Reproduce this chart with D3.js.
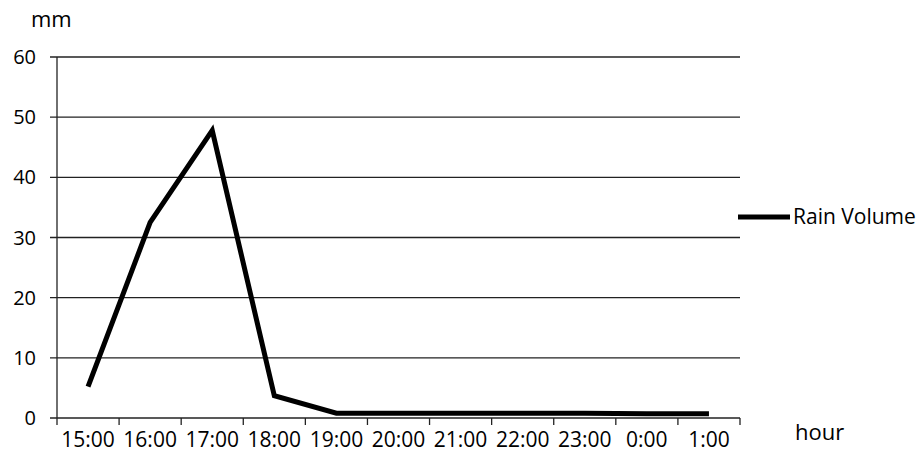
<!DOCTYPE html>
<html>
<head>
<meta charset="utf-8">
<script src="https://cdn.jsdelivr.net/npm/d3@7"></script>
<style>
body { margin: 0; background: #fff; }
text { font-family: "Open Sans", sans-serif; fill: #000; }
</style>
</head>
<body>
<div id="chart"></div>
<script>
var width = 922;
var height = 464;

var hours = ["15:00", "16:00", "17:00", "18:00", "19:00", "20:00", "21:00", "22:00", "23:00", "0:00", "1:00"];
var rain = [5.2, 32.5, 47.8, 3.7, 0.8, 0.8, 0.8, 0.8, 0.8, 0.7, 0.7];
var yTicks = [0, 10, 20, 30, 40, 50, 60];

var plotLeft = 57, plotRight = 740, plotTop = 57, plotBottom = 418;

var svg = d3.select("#chart").append("svg")
    .attr("width", width)
    .attr("height", height);

var x = d3.scaleBand()
    .domain(hours)
    .range([plotLeft, plotRight]);

var y = d3.scaleLinear()
    .domain([0, 60])
    .range([plotBottom, plotTop]);

// gridlines
svg.selectAll("line.grid")
    .data(yTicks)
    .enter()
    .append("line")
        .attr("class", "grid")
        .attr("x1", plotLeft - 7)
        .attr("x2", plotRight)
        .attr("y1", function(d){ return y(d); })
        .attr("y2", function(d){ return y(d); })
        .attr("stroke", "#222")
        .attr("stroke-width", 1.3);

// y axis line
svg.append("line")
    .attr("x1", plotLeft).attr("x2", plotLeft)
    .attr("y1", plotTop).attr("y2", plotBottom)
    .attr("stroke", "#222")
    .attr("stroke-width", 1.3);

// y labels
svg.selectAll("text.ylab")
    .data(yTicks)
    .enter()
    .append("text")
        .attr("class", "ylab")
        .attr("x", 36)
        .attr("y", function(d){ return y(d); })
        .attr("dy", "0.35em")
        .attr("text-anchor", "end")
        .style("font-size", "20px")
        .text(function(d){ return d; });

// x ticks at category boundaries
var bounds = hours.map(function(d){ return x(d); }).concat([plotRight]);
svg.selectAll("line.xtick")
    .data(bounds)
    .enter()
    .append("line")
        .attr("class", "xtick")
        .attr("x1", function(d){ return d; })
        .attr("x2", function(d){ return d; })
        .attr("y1", plotBottom)
        .attr("y2", plotBottom + 7)
        .attr("stroke", "#222")
        .attr("stroke-width", 1.3);

// x labels
svg.selectAll("text.xlab")
    .data(hours)
    .enter()
    .append("text")
        .attr("class", "xlab")
        .attr("x", function(d){ return x(d) + x.bandwidth() / 2; })
        .attr("y", 447)
        .attr("text-anchor", "middle")
        .style("font-size", "21px")
        .text(function(d){ return d; });

// line
var line = d3.line()
    .x(function(d, i){ return x(hours[i]) + x.bandwidth() / 2; })
    .y(function(d){ return y(d); });

svg.append("path")
    .datum(rain)
    .attr("d", line)
    .attr("fill", "none")
    .attr("stroke", "#000")
    .attr("stroke-width", 5)
    .attr("stroke-linejoin", "miter");

// axis titles
svg.append("text")
    .attr("x", 31).attr("y", 27)
    .style("font-size", "22px")
    .text("mm");

svg.append("text")
    .attr("x", 795).attr("y", 440)
    .style("font-size", "22px")
    .text("hour");

// legend
svg.append("line")
    .attr("x1", 738).attr("x2", 790)
    .attr("y1", 217).attr("y2", 217)
    .attr("stroke", "#000")
    .attr("stroke-width", 5);

svg.append("text")
    .attr("x", 793).attr("y", 217)
    .attr("dy", "0.35em")
    .style("font-size", "21px")
    .text("Rain Volume");
</script>
</body>
</html>
